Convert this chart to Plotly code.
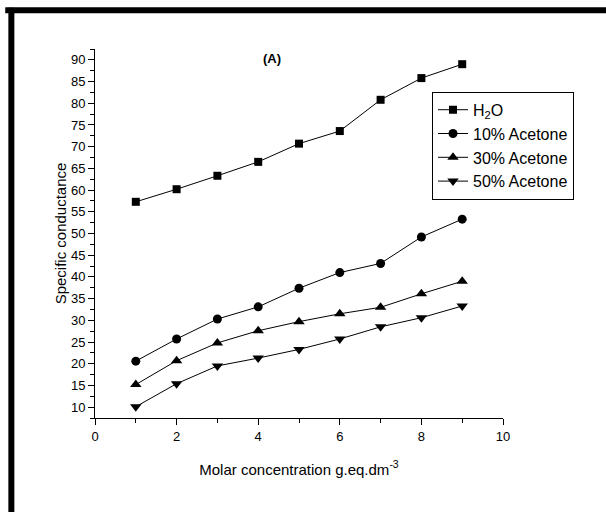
import plotly.graph_objects as go

x_conc = [1, 2, 3, 4, 5, 6, 7, 8, 9]
h2o = [57.3, 60.2, 63.3, 66.5, 70.7, 73.6, 80.8, 85.8, 89.0]
acetone10 = [20.6, 25.7, 30.3, 33.1, 37.4, 41.0, 43.1, 49.2, 53.3]
acetone30 = [15.2, 20.7, 24.8, 27.6, 29.7, 31.5, 33.0, 36.1, 39.0]
acetone50 = [10.1, 15.4, 19.5, 21.3, 23.3, 25.7, 28.5, 30.6, 33.3]

series_names = ["H<sub>2</sub>O", "10% Acetone", "30% Acetone", "50% Acetone"]
series_values = [h2o, acetone10, acetone30, acetone50]
symbols = ["square", "circle", "triangle-up", "triangle-down"]
sizes = [8, 9, 10, 10]

FONT = "Liberation Sans, Arial, sans-serif"

fig = go.Figure()
for i, (name, vals, sym, sz) in enumerate(zip(series_names, series_values, symbols, sizes)):
    fig.add_trace(go.Scatter(
        x=x_conc, y=vals, name=name, mode="lines+markers",
        line=dict(color="black", width=1),
        marker=dict(symbol=sym, size=sz, color="black"),
        legendgroup=f"g{i}",
    ))

fig.update_layout(
    width=606, height=512,
    margin=dict(l=95, r=103, t=49, b=94),
    paper_bgcolor="white", plot_bgcolor="white",
    font=dict(family=FONT, color="black", size=13),
    showlegend=True,
    legend=dict(
        x=0.826, y=0.884, xanchor="left", yanchor="top",
        bordercolor="black", borderwidth=1, bgcolor="white",
        font=dict(size=16, family=FONT), tracegroupgap=0,
        itemwidth=30,
    ),
    xaxis=dict(
        range=[0, 10], dtick=2, tick0=0,
        showline=True, linecolor="black", linewidth=1,
        ticks="outside", ticklen=6, tickcolor="black",
        minor=dict(dtick=1, ticks="outside", ticklen=4, tickcolor="black"),
        showgrid=False, zeroline=False,
        tickfont=dict(size=13),
        title=dict(text="Molar concentration g.eq.dm<sup>-3</sup>", font=dict(size=15), standoff=21),
    ),
    yaxis=dict(
        range=[7.5, 92.5], dtick=5, tick0=0,
        showline=True, linecolor="black", linewidth=1,
        ticks="outside", ticklen=6, tickcolor="black",
        minor=dict(dtick=2.5, ticks="outside", ticklen=4, tickcolor="black"),
        showgrid=False, zeroline=False,
        tickfont=dict(size=13),
        title=dict(text="Specific conductance", font=dict(size=15), standoff=0),
    ),
    annotations=[dict(
        text="<b>(A)</b>", xref="paper", yref="paper",
        x=0.434, y=0.975, xanchor="center", yanchor="middle",
        showarrow=False, font=dict(size=13, family=FONT),
    )],
    shapes=[
        dict(type="line", xref="paper", yref="paper",
             x0=-0.22, x1=1.3, y0=1.105, y1=1.105,
             line=dict(color="black", width=6)),
        dict(type="line", xref="paper", yref="paper",
             x0=-0.205, x1=-0.205, y0=-0.3, y1=1.112,
             line=dict(color="black", width=6)),
    ],
)

fig.write_html("out.html", config={"displayModeBar": False},
               post_script="document.body.style.margin='0';")
